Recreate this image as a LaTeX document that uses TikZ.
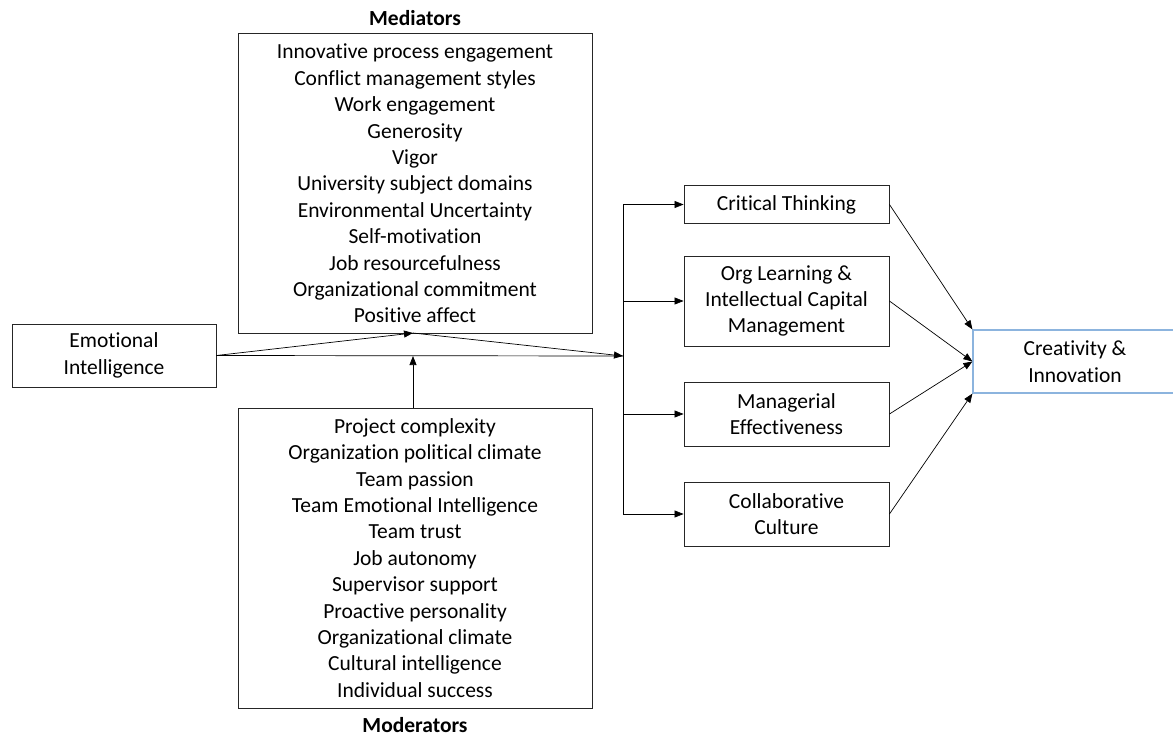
\documentclass[tikz,border=0pt]{standalone}
\usepackage{fontspec}
\setmainfont{Carlito}[Ligatures=NoCommon]
\usetikzlibrary{arrows.meta}
\begin{document}
\begin{tikzpicture}[x=1pt,y=-1pt,
  txt/.style={font=\fontsize{21.5}{26.4}\selectfont, align=center, inner sep=0pt},
  box/.style={txt, draw=black!85, line width=0.9pt},
  cbox/.style={txt, draw={rgb,255:red,140;green,180;blue,222}, line width=1.2pt},
  ttl/.style={font=\fontsize{21.5}{24}\selectfont\bfseries, inner sep=0pt},
  arr/.style={-{Triangle[length=9pt,width=7pt]}, line width=0.7pt},
  ln/.style={line width=0.7pt}]
\useasboundingbox (0,0) rectangle (1173,736);
% left
\node[box, minimum width=204pt, minimum height=63pt] (ei) at (114,355.5) {Emotional\\Intelligence};
\node[box, minimum width=354pt, minimum height=300pt] (med) at (415,183.5) {Innovative process engagement\\Conflict management styles\\Work engagement\\Generosity\\Vigor\\University subject domains\\Environmental Uncertainty\\Self-motivation\\Job resourcefulness\\Organizational commitment\\Positive affect};
\node[ttl] (medt) at (415,18) {Mediators};
\node[box, minimum width=354pt, minimum height=300pt] (mod) at (415,558) {Project complexity\\Organization political climate\\Team passion\\Team Emotional Intelligence\\Team trust\\Job autonomy\\Supervisor support\\Proactive personality\\Organizational climate\\Cultural intelligence\\Individual success};
\node[ttl] (modt) at (415,725) {Moderators};
% right
\node[box, minimum width=205pt, minimum height=38pt] (ct) at (786.5,204.5) {Critical Thinking};
\node[box, minimum width=205pt, minimum height=90pt] (ol) at (786.5,301) {Org Learning \&\\Intellectual Capital\\Management};
\node[box, minimum width=205pt, minimum height=64pt] (me) at (786.5,414) {Managerial\\Effectiveness};
\node[box, minimum width=205pt, minimum height=64pt] (cc) at (786.5,514) {Collaborative\\Culture};
\node[cbox, minimum width=204pt, minimum height=63pt] (ci) at (1075,361.5) {Creativity \&\\Innovation};
% junction
\coordinate (jt) at (623,204.5);
\coordinate (jb) at (623,514);
\coordinate (jm) at (623,356);
\coordinate (mt) at (413,333);
\coordinate (hl) at (413,356);
\draw[ln] (jt) -- (jb);
\draw[arr] (ei.east) -- (mt);
\draw[arr] (mt) -- (jm);
\draw[ln] (ei.east) -- (jm);
\draw[arr] (mod.north -| mt) -- (hl);
\draw[arr] (jt) -- (ct.west);
\draw[arr] (jt |- ol.west) -- (ol.west);
\draw[arr] (jt |- me.west) -- (me.west);
\draw[arr] (jb) -- (cc.west);
\draw[arr] (ct.east) -- (ci.north west);
\draw[arr] (ol.east) -- (ci.west);
\draw[arr] (me.east) -- (ci.west);
\draw[arr] (cc.east) -- (ci.south west);
\end{tikzpicture}
\end{document}
